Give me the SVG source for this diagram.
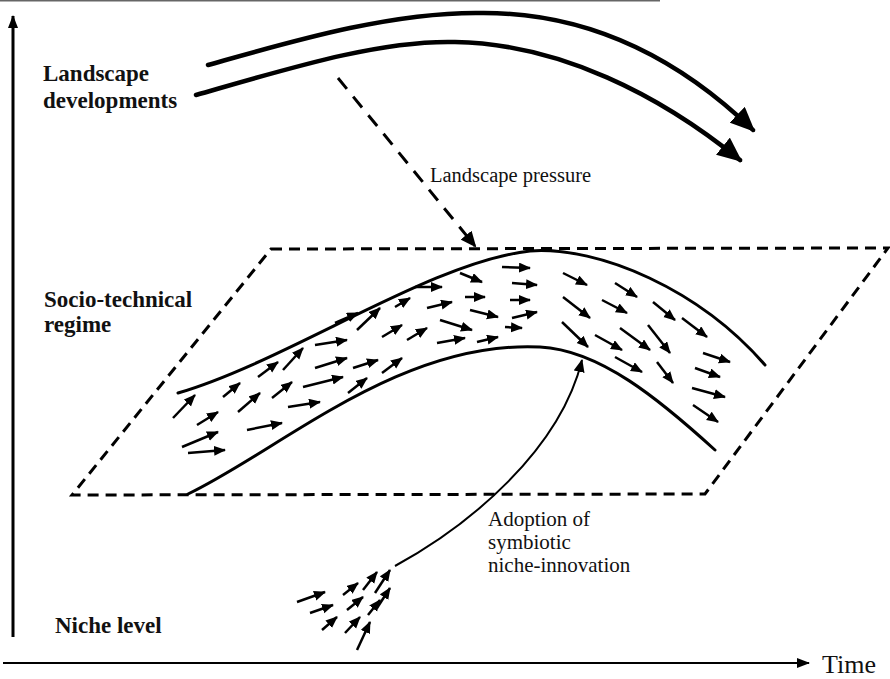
<svg xmlns="http://www.w3.org/2000/svg" width="890" height="679" viewBox="0 0 890 679">
<style>
.lvl{font-family:"Liberation Serif","Times New Roman",serif;font-weight:bold;font-size:23px;fill:#111}
.lbl{font-family:"Liberation Serif","Times New Roman",serif;font-size:21px;fill:#111}
.thick{fill:none;stroke:#000;stroke-width:4.5;stroke-linecap:round}
.band{fill:none;stroke:#000;stroke-width:3;stroke-linecap:round}
.dash{fill:none;stroke:#000;stroke-width:3;stroke-dasharray:11 7}
.sa{stroke:#000;stroke-width:2.5;marker-end:url(#sHead)}
.axis{fill:none;stroke:#000}
</style>
<defs>
<marker id="bigHead" markerUnits="userSpaceOnUse" markerWidth="26" markerHeight="22" refX="22" refY="11" orient="auto"><path d="M0,0 L25,11 L0,22 z" fill="#000"/></marker>
<marker id="pHead" markerUnits="userSpaceOnUse" markerWidth="17" markerHeight="14" refX="14" refY="7" orient="auto"><path d="M0,0 L16,7 L0,14 z" fill="#000"/></marker>
<marker id="nHead" markerUnits="userSpaceOnUse" markerWidth="14" markerHeight="11" refX="12" refY="5.5" orient="auto"><path d="M0,0 L13,5.5 L0,11 z" fill="#000"/></marker>
<marker id="sHead" markerUnits="userSpaceOnUse" markerWidth="13" markerHeight="11" refX="11" refY="5" orient="auto"><path d="M0,0 L12,5 L0,10 z" fill="#000"/></marker>
<marker id="axHead" markerUnits="userSpaceOnUse" markerWidth="14" markerHeight="10" refX="12" refY="5" orient="auto"><path d="M0,0 L13,5 L0,10 z" fill="#000"/></marker>
</defs>
<rect width="890" height="679" fill="#fff"/>
<line x1="0" y1="0.8" x2="660" y2="0.8" stroke="#666" stroke-width="1.5"/>

<g id="landscape-label">
<text class="lvl" x="43" y="81">Landscape</text>
<text class="lvl" x="43" y="108">developments</text>
</g>
<g id="regime-label">
<text class="lvl" x="44" y="307">Socio-technical</text>
<text class="lvl" x="44" y="332">regime</text>
</g>
<g id="niche-label">
<text class="lvl" x="55" y="633">Niche level</text>
</g>
<g id="time-label">
<text class="lvl" style="font-weight:normal;font-size:26px" x="822" y="673">Time</text>
</g>

<g id="landscape-developments">
<path class="thick" d="M208,65 C290,42 390,12 480,13 C580,12 670,50 753,130" marker-end="url(#bigHead)"/>
<path class="thick" d="M196,95 C290,68 380,40 455,42 C560,44 660,95 740,160" marker-end="url(#bigHead)"/>
</g>

<g id="regime-plane">
<path class="dash" d="M271,249 L888,248 L705,494 L72,495 Z"/>
</g>

<g id="regime-band">
<path class="band" d="M178,393 C290,360 430,262 530,251 C600,246 700,290 765,365"/>
<path class="band" d="M188,494 C280,450 400,340 540,347 C600,350 660,400 715,450"/>
<line class="sa" x1="173" y1="418" x2="195" y2="395"/>
<line class="sa" x1="197" y1="425" x2="218" y2="412"/>
<line class="sa" x1="182" y1="447" x2="218" y2="432"/>
<line class="sa" x1="188" y1="453" x2="225" y2="450"/>
<line class="sa" x1="223" y1="397" x2="240" y2="383"/>
<line class="sa" x1="238" y1="412" x2="260" y2="393"/>
<line class="sa" x1="247" y1="430" x2="282" y2="423"/>
<line class="sa" x1="258" y1="377" x2="278" y2="362"/>
<line class="sa" x1="272" y1="398" x2="292" y2="382"/>
<line class="sa" x1="283" y1="370" x2="303" y2="348"/>
<line class="sa" x1="288" y1="407" x2="320" y2="402"/>
<line class="sa" x1="303" y1="387" x2="343" y2="377"/>
<line class="sa" x1="315" y1="368" x2="347" y2="358"/>
<line class="sa" x1="315" y1="345" x2="347" y2="340"/>
<line class="sa" x1="335" y1="323" x2="358" y2="313"/>
<line class="sa" x1="348" y1="393" x2="367" y2="378"/>
<line class="sa" x1="353" y1="368" x2="378" y2="360"/>
<line class="sa" x1="357" y1="330" x2="380" y2="308"/>
<line class="sa" x1="382" y1="337" x2="402" y2="325"/>
<line class="sa" x1="382" y1="373" x2="402" y2="358"/>
<line class="sa" x1="395" y1="307" x2="410" y2="298"/>
<line class="sa" x1="407" y1="340" x2="427" y2="328"/>
<line class="sa" x1="415" y1="287" x2="442" y2="287"/>
<line class="sa" x1="427" y1="308" x2="452" y2="302"/>
<line class="sa" x1="437" y1="343" x2="465" y2="338"/>
<line class="sa" x1="440" y1="320" x2="472" y2="330"/>
<line class="sa" x1="460" y1="273" x2="482" y2="282"/>
<line class="sa" x1="465" y1="297" x2="485" y2="297"/>
<line class="sa" x1="470" y1="310" x2="498" y2="317"/>
<line class="sa" x1="477" y1="342" x2="498" y2="337"/>
<line class="sa" x1="502" y1="267" x2="530" y2="268"/>
<line class="sa" x1="512" y1="283" x2="537" y2="285"/>
<line class="sa" x1="510" y1="300" x2="530" y2="300"/>
<line class="sa" x1="512" y1="318" x2="537" y2="312"/>
<line class="sa" x1="505" y1="327" x2="522" y2="328"/>
<line class="sa" x1="563" y1="273" x2="587" y2="285"/>
<line class="sa" x1="615" y1="283" x2="637" y2="297"/>
<line class="sa" x1="563" y1="297" x2="590" y2="318"/>
<line class="sa" x1="602" y1="300" x2="627" y2="313"/>
<line class="sa" x1="653" y1="302" x2="675" y2="320"/>
<line class="sa" x1="682" y1="318" x2="707" y2="337"/>
<line class="sa" x1="562" y1="322" x2="588" y2="347"/>
<line class="sa" x1="595" y1="335" x2="622" y2="350"/>
<line class="sa" x1="620" y1="328" x2="650" y2="350"/>
<line class="sa" x1="648" y1="325" x2="670" y2="353"/>
<line class="sa" x1="703" y1="353" x2="730" y2="362"/>
<line class="sa" x1="615" y1="357" x2="642" y2="372"/>
<line class="sa" x1="657" y1="362" x2="673" y2="383"/>
<line class="sa" x1="695" y1="368" x2="720" y2="377"/>
<line class="sa" x1="692" y1="388" x2="725" y2="397"/>
<line class="sa" x1="693" y1="405" x2="718" y2="422"/>
</g>

<g id="niche-innovations">
<line class="sa" x1="297" y1="602" x2="325" y2="592"/>
<line class="sa" x1="310" y1="613" x2="333" y2="605"/>
<line class="sa" x1="322" y1="630" x2="337" y2="617"/>
<line class="sa" x1="343" y1="595" x2="358" y2="583"/>
<line class="sa" x1="347" y1="610" x2="363" y2="597"/>
<line class="sa" x1="345" y1="633" x2="360" y2="617"/>
<line class="sa" x1="357" y1="650" x2="370" y2="622"/>
<line class="sa" x1="363" y1="590" x2="377" y2="572"/>
<line class="sa" x1="375" y1="593" x2="390" y2="570"/>
<line class="sa" x1="368" y1="615" x2="380" y2="600"/>
<line class="sa" x1="377" y1="608" x2="390" y2="588"/>
</g>

<g id="connectors">
<path d="M338,78 L475,246" fill="none" stroke="#000" stroke-width="3" stroke-dasharray="14 10" marker-end="url(#pHead)"/>
<text class="lbl" style="font-size:20.5px" x="430" y="182">Landscape pressure</text>
<path d="M395,566 C470,525 560,450 582,360" fill="none" stroke="#000" stroke-width="2" marker-end="url(#nHead)"/>
<text class="lbl" x="488" y="526">Adoption of</text>
<text class="lbl" x="488" y="549">symbiotic</text>
<text class="lbl" x="488" y="572">niche-innovation</text>
<line class="axis" x1="13" y1="637" x2="13" y2="16" stroke-width="3" marker-end="url(#axHead)"/>
<line class="axis" x1="3" y1="663" x2="809" y2="663" stroke-width="1.8" marker-end="url(#axHead)"/>
</g>
</svg>
